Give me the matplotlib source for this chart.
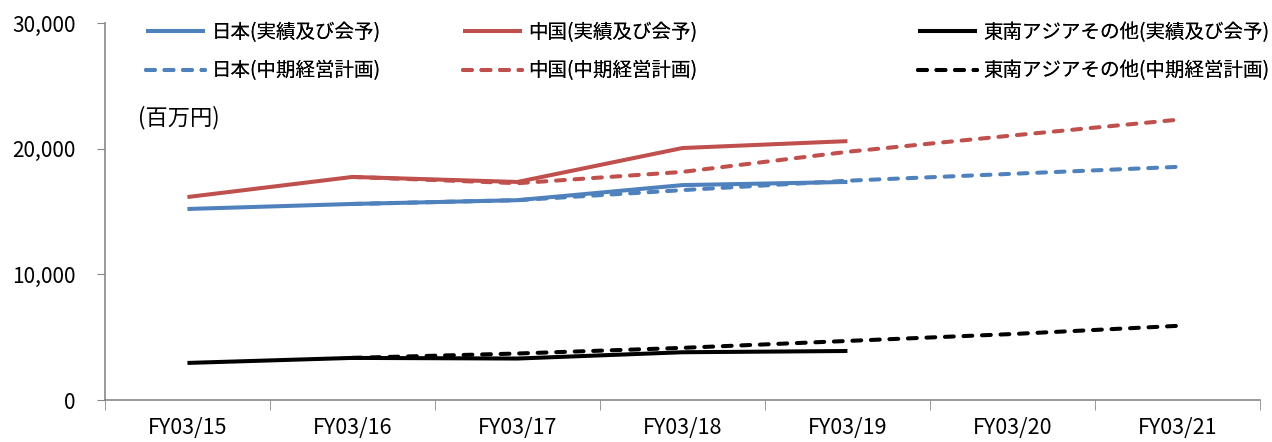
import matplotlib.pyplot as plt
from matplotlib.ticker import FuncFormatter

plt.rcParams['font.family'] = ['Noto Sans CJK JP', 'DejaVu Sans']

years = ["FY03/15", "FY03/16", "FY03/17", "FY03/18", "FY03/19", "FY03/20", "FY03/21"]

japan_actual = [15200, 15600, 15900, 17100, 17350]
china_actual = [16150, 17750, 17350, 20050, 20600]
sea_actual = [2950, 3350, 3300, 3800, 3900]

# plan series start at FY03/16
japan_plan = [15600, 15900, 16700, 17450, 18000, 18550]
china_plan = [17750, 17250, 18150, 19750, 21050, 22300]
sea_plan = [3350, 3700, 4150, 4700, 5250, 5900]

BLUE = "#4F81BD"
RED = "#C0504D"
BLACK = "#000000"
GRID = "#888888"


def main() -> None:
    fig = plt.figure(figsize=(12.72, 4.42), dpi=100)
    ax = fig.add_axes([0.0825, 0.095, 0.908, 0.853])

    x_act = range(len(japan_actual))
    x_plan = range(1, 1 + len(japan_plan))
    lw = 2.9
    dash = (0, (2.2, 2.4))

    groups = [
        (BLUE, japan_actual, japan_plan, "日本"),
        (RED, china_actual, china_plan, "中国"),
        (BLACK, sea_actual, sea_plan, "東南アジアその他"),
    ]
    handles = []
    for color, actual, plan, name in groups:
        h1, = ax.plot(x_act, actual, color=color, lw=lw, solid_capstyle="butt",
                      label=f"{name}(実績及び会予)")
        h2, = ax.plot(x_plan, plan, color=color, lw=lw, ls=dash, dash_capstyle="round",
                      label=f"{name}(中期経営計画)")
        handles.append((h1, h2))

    ax.set_xlim(-0.5, len(years) - 0.5)
    ax.set_ylim(0, 30000)
    ax.set_yticks([0, 10000, 20000, 30000])
    ax.yaxis.set_major_formatter(FuncFormatter(lambda v, p: f"{int(v):,}"))

    ax.set_xticks(range(len(years)))
    ax.set_xticklabels(years)
    ax.set_xticks([i - 0.5 for i in range(len(years) + 1)], minor=True)
    ax.tick_params(axis="x", which="major", length=0, pad=12, labelsize=15.5)
    ax.tick_params(axis="x", which="minor", length=7, color=GRID)
    ax.tick_params(axis="y", length=6, color=GRID, labelsize=15, pad=15)

    for side in ("top", "right"):
        ax.spines[side].set_visible(False)
    for side in ("left", "bottom"):
        ax.spines[side].set_color(GRID)
        ax.spines[side].set_linewidth(1.2)

    ax.text(0.029, 0.75, "(百万円)", transform=ax.transAxes, fontsize=16, va="center")

    legend_x = [146, 463, 918]
    for (h1, h2), lx in zip(handles, legend_x):
        leg = fig.legend(handles=[h1, h2], loc="upper left",
                         bbox_to_anchor=(lx / 1272, 1 - 22 / 442),
                         frameon=False, fontsize=14, handlelength=3.05,
                         handletextpad=0.3, labelspacing=0.9,
                         borderpad=0, borderaxespad=0)
        fig.add_artist(leg)

    fig.savefig("out.png", dpi=100)
    plt.close(fig)


if __name__ == "__main__":
    main()
